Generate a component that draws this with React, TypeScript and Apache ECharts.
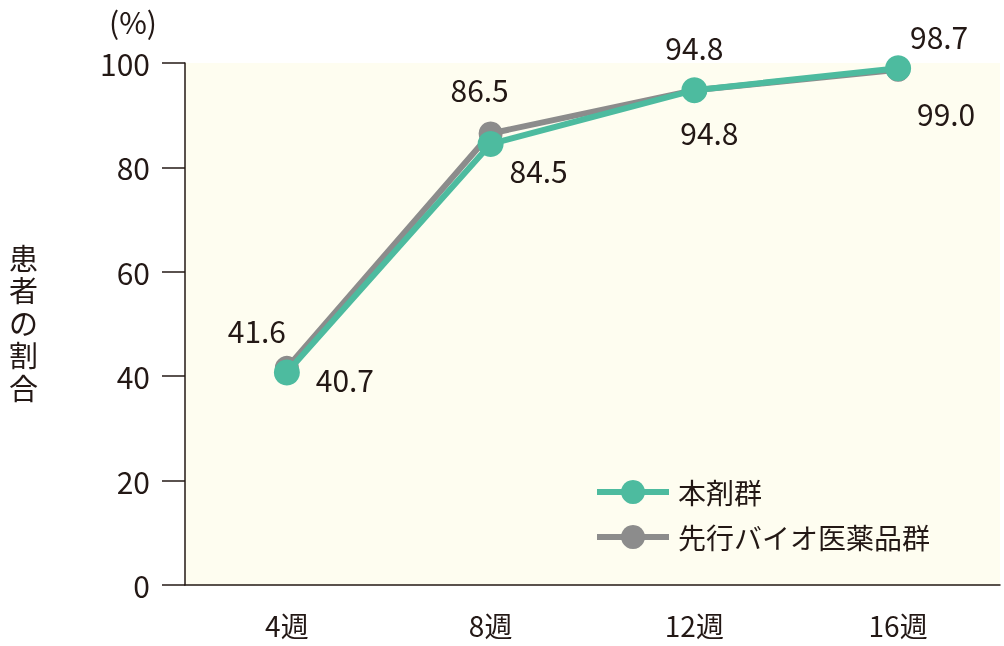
import { useEffect, useRef } from 'react';
import * as echarts from 'echarts';

const weeks = ['4週', '8週', '12週', '16週'];
const mainValues = [40.7, 84.5, 94.8, 99.0];
const priorValues = [41.6, 86.5, 94.8, 98.7];
const mainOffsets: [number, number][] = [[58, 6], [48, 26], [15, 42], [48, 45]];
const priorOffsets: [number, number][] = [[-30, -38], [-11, -44], [0, -43], [41, -34]];
const yName = '患者の割合';

const FONT = '"Noto Sans CJK JP", "Noto Sans", sans-serif';
const INK = '#231815';
const TEAL = '#4dbb9f';
const GRAY = '#8c8c8c';

export default function App() {
  const ref = useRef<HTMLDivElement>(null);

  useEffect(() => {
    const dom = ref.current;
    if (!dom) return;
    const chart = echarts.init(dom, null, { renderer: 'svg' });

    const withOffsets = (vals: number[], offs: [number, number][]) =>
      vals.map((v, i) => ({ value: v, label: { offset: offs[i] } }));

    const pointLabel = {
      show: true,
      position: 'inside',
      fontSize: 30,
      color: INK,
      fontFamily: FONT,
      formatter: (p: any) => Number(p.value).toFixed(1),
    };

    // vertical axis name, one upright glyph per line
    const nameChars = yName.split('').map((ch, i) => ({
      type: 'text',
      left: 9,
      top: 242 + i * 32.5,
      style: { text: ch, fontSize: 29, fill: INK, fontFamily: FONT },
    }));

    chart.setOption({
      animation: false,
      textStyle: { fontFamily: FONT, color: INK },
      grid: {
        left: 185,
        right: 4,
        top: 63,
        bottom: 61,
        show: true,
        backgroundColor: '#fefdf0',
        borderWidth: 0,
      },
      graphic: [
        {
          type: 'text',
          left: 109,
          top: 6,
          style: { text: '(%)', fontSize: 30, fill: INK, fontFamily: FONT },
        },
        ...nameChars,
      ],
      legend: {
        orient: 'vertical',
        left: 594,
        top: 478,
        padding: 0,
        itemWidth: 72,
        itemHeight: 30,
        itemGap: 17,
        data: ['本剤群', '先行バイオ医薬品群'],
        lineStyle: { width: 6 },
        textStyle: { fontSize: 28, color: INK, fontFamily: FONT, padding: [0, 0, 0, 4] },
      },
      xAxis: {
        type: 'category',
        data: weeks,
        boundaryGap: true,
        axisLine: { lineStyle: { color: INK, width: 1.5 } },
        axisTick: { alignWithLabel: true, length: 23, lineStyle: { color: INK, width: 1.5 } },
        axisLabel: { fontSize: 28, lineHeight: 28, color: INK, margin: 26, fontFamily: FONT },
        splitLine: { show: false },
      },
      yAxis: {
        type: 'value',
        min: 0,
        max: 100,
        interval: 20,
        axisLine: { show: true, lineStyle: { color: INK, width: 1.5 } },
        axisTick: { show: true, length: 23, lineStyle: { color: INK, width: 1.5 } },
        axisLabel: { fontSize: 30, color: INK, margin: 35, fontFamily: FONT },
        splitLine: { show: false },
      },
      series: [
        {
          name: '先行バイオ医薬品群',
          type: 'line',
          data: withOffsets(priorValues, priorOffsets),
          symbol: 'circle',
          symbolSize: 24,
          itemStyle: { color: GRAY },
          lineStyle: { color: GRAY, width: 6 },
          label: pointLabel,
          z: 2,
        },
        {
          name: '本剤群',
          type: 'line',
          data: withOffsets(mainValues, mainOffsets),
          symbol: 'circle',
          symbolSize: 26,
          itemStyle: { color: TEAL },
          lineStyle: { color: TEAL, width: 6 },
          label: pointLabel,
          z: 3,
        },
      ],
    } as echarts.EChartsOption);

    return () => {
      chart.dispose();
    };
  }, []);

  return (
    <div
      ref={ref}
      style={{ position: 'fixed', left: 0, top: 0, width: 1004, height: 646 }}
    />
  );
}
